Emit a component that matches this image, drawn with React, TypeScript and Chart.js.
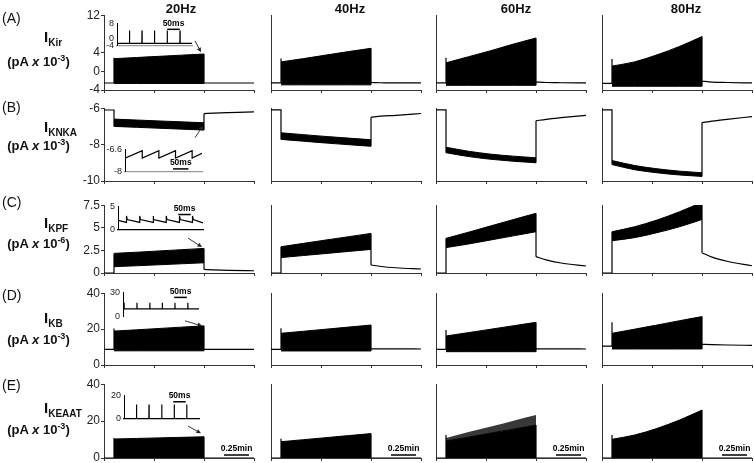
import React, { useEffect, useRef } from 'react';
import { Chart, registerables } from 'chart.js';

Chart.register(...registerables);

const FONT = '"Liberation Sans", Arial, Helvetica, sans-serif';
const AXIS = '#333';

// ---------------- text ----------------
const COLUMN_TITLES = ['20Hz', '40Hz', '60Hz', '80Hz'];
const ROW_LETTERS = ['(A)', '(B)', '(C)', '(D)', '(E)'];
const CURRENT_NAMES = ['Kir', 'KNKA', 'KPF', 'KB', 'KEAAT'];
const UNIT_EXPONENTS = ['-3', '-3', '-6', '-3', '-3'];
const SCALE_BAR_LABEL = '0.25min';
const INSET_BAR_LABEL = '50ms';

// ---------------- time axes (min) ----------------
const X_TICKS = [0, 0.5, 1, 1.5];
const STIM_TIMES = [0.1, 0.325, 0.55, 0.775, 1.0];
const POST_TIMES = [1.0, 1.1, 1.25, 1.5];
const SCALE_BAR_START = 1.2;
const SCALE_BAR_MIN = 0.25;

// ---------------- Row A: I_Kir (pA x 10^-3) ----------------
const KIR_Y_TICKS = [-4, 0, 4, 12];
const kirPre = [-2.5, -2.5, -2.5, -2.6];
const kirSpike = [2.9, 2.7, 2.9, 2.6];
const kirUpper = [
  [2.7, 2.95, 3.2, 3.45, 3.7],
  [2.0, 2.7, 3.45, 4.2, 4.9],
  [1.8, 3.1, 4.4, 5.8, 7.1],
  [1.1, 2.0, 3.5, 5.3, 7.4],
];
const kirLower = [
  [-2.6, -2.6, -2.6, -2.6, -2.6],
  [-2.9, -2.9, -2.9, -2.9, -2.9],
  [-3.0, -3.0, -3.0, -3.0, -3.0],
  [-3.2, -3.2, -3.2, -3.2, -3.2],
];
const kirPost = [
  [-2.5, -2.5, -2.5, -2.5],
  [-2.4, -2.45, -2.5, -2.5],
  [-2.3, -2.4, -2.45, -2.5],
  [-2.1, -2.3, -2.4, -2.5],
];

// ---------------- Row B: I_KNKA (pA x 10^-3) ----------------
const KNKA_Y_TICKS = [-10, -8, -6];
const knkaPre = [-6.1, -6.1, -6.1, -6.1];
const knkaSpike = [-7.0, -7.72, -8.45, -9.1];
const knkaUpper = [
  [-6.6, -6.65, -6.7, -6.75, -6.8],
  [-7.36, -7.46, -7.56, -7.65, -7.74],
  [-8.15, -8.37, -8.53, -8.64, -8.73],
  [-8.88, -9.15, -9.33, -9.46, -9.55],
];
const knkaLower = [
  [-7.0, -7.05, -7.1, -7.15, -7.2],
  [-7.72, -7.82, -7.92, -8.01, -8.1],
  [-8.45, -8.66, -8.81, -8.92, -9.0],
  [-9.1, -9.38, -9.55, -9.67, -9.75],
];
const knkaPost = [
  [-6.3, -6.27, -6.24, -6.2],
  [-6.5, -6.45, -6.4, -6.3],
  [-6.7, -6.62, -6.53, -6.4],
  [-6.8, -6.72, -6.62, -6.47],
];

// ---------------- Row C: I_KPF (pA x 10^-6) ----------------
const KPF_Y_TICKS = [0, 2.5, 5, 7.5];
const kpfPre = [0, 0, 0, 0];
const kpfSpike = [2.17, 2.9, 3.82, 4.55];
const kpfUpper = [
  [2.17, 2.3, 2.44, 2.58, 2.72],
  [2.9, 3.27, 3.64, 4.0, 4.37],
  [3.82, 4.5, 5.2, 5.9, 6.58],
  [4.55, 5.1, 5.84, 6.76, 7.8],
];
const kpfLower = [
  [0.7, 0.8, 0.91, 1.02, 1.13],
  [1.7, 1.93, 2.15, 2.38, 2.6],
  [2.8, 3.2, 3.65, 4.1, 4.55],
  [3.56, 3.9, 4.45, 5.1, 5.9],
];
const kpfPost = [
  [0.4, 0.35, 0.3, 0.25],
  [0.88, 0.72, 0.58, 0.44],
  [1.8, 1.45, 1.1, 0.77],
  [2.24, 1.75, 1.3, 0.8],
];

// ---------------- Row D: I_KB (pA x 10^-3) ----------------
const KB_Y_TICKS = [0, 20, 40];
const kbPre = [8.7, 8.7, 8.7, 10.5];
const kbSpike = [20.4, 20.4, 19.4, 23.7];
const kbUpper = [
  [18.9, 19.6, 20.35, 21.1, 21.8],
  [17.6, 18.75, 19.9, 21.05, 22.2],
  [16.1, 18.0, 19.9, 21.8, 23.7],
  [17.6, 19.9, 22.2, 24.6, 26.9],
];
const kbLower = [
  [7.9, 7.9, 7.9, 7.9, 7.9],
  [7.8, 7.8, 7.8, 7.8, 7.8],
  [7.4, 7.4, 7.4, 7.4, 7.4],
  [8.9, 8.9, 8.9, 8.9, 8.9],
];
const kbPost = [
  [8.7, 8.7, 8.7, 8.7],
  [9.0, 9.0, 8.95, 8.9],
  [9.0, 9.0, 8.95, 8.9],
  [11.5, 11.3, 11.1, 10.9],
];

// ---------------- Row E: I_KEAAT (pA x 10^-3) ----------------
const EAAT_Y_TICKS = [0, 20, 40];
const eaatPre = [0, 0, 0, 0];
const eaatSpike = [10.8, 10.4, 12.4, 12.4];
const eaatUpper = [
  [10.3, 10.6, 10.9, 11.2, 11.5],
  [8.8, 9.9, 11.0, 12.1, 13.2],
  [9.2, 11.3, 13.5, 15.6, 17.8],
  [10.1, 12.4, 16.0, 20.5, 25.9],
];
const eaatLower = [
  [0, 0, 0, 0, 0],
  [0, 0, 0, 0, 0],
  [0, 0, 0, 0, 0],
  [0, 0, 0, 0, 0],
];
const eaatPeaks = [null, null, [10.8, 14.0, 17.0, 20.1, 23.2], null];
const eaatPost = [
  [0, 0, 0, 0],
  [0, 0, 0, 0],
  [0, 0, 0, 0],
  [0, 0, 0, 0],
];

// arrows (data coords of the 20Hz panels): [x1, y1, x2, y2]
const kirArrow = [0.91, 6.5, 0.97, 4.1];
const knkaArrow = [0.91, -7.62, 0.99, -6.96];
const kpfArrow = [0.84, 3.86, 0.98, 2.87];
const kbArrow = [0.81, 24.6, 0.98, 21.8];
const eaatArrow = [0.84, 17.3, 0.97, 13.35];

type RowData = {
  yMin: number; yMax: number; yTicks: number[];
  pre: number[]; spike: number[]; upper: number[][]; lower: number[][]; post: number[][];
  peaks?: (number[] | null)[]; arrow: number[];
};

const ROW_DATA: RowData[] = [
  { yMin: -4, yMax: 12, yTicks: KIR_Y_TICKS, pre: kirPre, spike: kirSpike, upper: kirUpper, lower: kirLower, post: kirPost, arrow: kirArrow },
  { yMin: -10, yMax: -6, yTicks: KNKA_Y_TICKS, pre: knkaPre, spike: knkaSpike, upper: knkaUpper, lower: knkaLower, post: knkaPost, arrow: knkaArrow },
  { yMin: 0, yMax: 7.5, yTicks: KPF_Y_TICKS, pre: kpfPre, spike: kpfSpike, upper: kpfUpper, lower: kpfLower, post: kpfPost, arrow: kpfArrow },
  { yMin: 0, yMax: 40, yTicks: KB_Y_TICKS, pre: kbPre, spike: kbSpike, upper: kbUpper, lower: kbLower, post: kbPost, arrow: kbArrow },
  { yMin: 0, yMax: 40, yTicks: EAAT_Y_TICKS, pre: eaatPre, spike: eaatSpike, upper: eaatUpper, lower: eaatLower, post: eaatPost, peaks: eaatPeaks, arrow: eaatArrow },
];

// ---------------- insets (20Hz, time in ms) ----------------
const kirInsetSpikes = [1, 50, 100, 150, 201, 252];
const kirInsetBase = -2.75;
const kirInsetPeak = 4.2;

const knkaInsetDrops = [56, 110, 164, 218];
const knkaInsetLow = -7.15;
const knkaInsetHigh = -6.68;
const knkaInsetEnd = -6.85;

const kpfInsetSpikes = [34, 87, 140, 193, 246, 298];
const kpfInsetStart = 2.0;
const kpfInsetTop = 2.95;
const kpfInsetAfter = 2.15;
const kpfInsetBefore = 1.55;
const kpfInsetEnd = 1.45;

const kbInsetSpikes = [4, 55, 106, 155, 205, 256];
const kbInsetBase = 9.5;
const kbInsetPeak = 17.3;

const eaatInsetSpikes = [1, 50, 100, 151, 201, 251];
const eaatInsetBase = 0;
const eaatInsetPeak = 12.1;

type Pt = { x: number; y: number };

function spikeTrain(times: number[], base: number, peak: number, xMax: number): Pt[] {
  const out: Pt[] = [{ x: 0, y: base }];
  times.forEach((t) => {
    out.push({ x: Math.max(0, t - 0.6), y: base }, { x: t, y: peak }, { x: t + 0.6, y: base });
  });
  out.push({ x: xMax, y: base });
  return out;
}
function sawtooth(drops: number[], low: number, high: number, end: number, xMax: number): Pt[] {
  const out: Pt[] = [{ x: 0, y: low }];
  drops.forEach((d) => out.push({ x: d, y: high }, { x: d, y: low }));
  out.push({ x: xMax, y: end });
  return out;
}
function decayTrain(times: number[], start: number, top: number, after: number, before: number, end: number, xMax: number): Pt[] {
  const out: Pt[] = [{ x: 0, y: start }];
  times.forEach((t) => out.push({ x: t, y: before }, { x: t, y: top }, { x: t + 3, y: after }));
  out.push({ x: xMax, y: end });
  return out;
}

type InsetData = { yMin: number; yMax: number; yTicks: number[]; xMax: number; points: Pt[]; xBorder: string | null; barStart: number; barY: number };

const INSET_DATA: InsetData[] = [
  { yMin: -4, yMax: 8, yTicks: [-4, 0, 8], xMax: 300, points: spikeTrain(kirInsetSpikes, kirInsetBase, kirInsetPeak, 300), xBorder: '#9a9a9a', barStart: 201, barY: 4.8 },
  { yMin: -8, yMax: -6.6, yTicks: [-8, -6.6], xMax: 250, points: sawtooth(knkaInsetDrops, knkaInsetLow, knkaInsetHigh, knkaInsetEnd, 250), xBorder: '#9a9a9a', barStart: 156, barY: -7.83 },
  { yMin: 0, yMax: 5, yTicks: [0, 5], xMax: 340, points: decayTrain(kpfInsetSpikes, kpfInsetStart, kpfInsetTop, kpfInsetAfter, kpfInsetBefore, kpfInsetEnd, 340), xBorder: '#000', barStart: 241, barY: 3.25 },
  { yMin: 0, yMax: 30, yTicks: [0, 30], xMax: 300, points: spikeTrain(kbInsetSpikes, kbInsetBase, kbInsetPeak, 300), xBorder: null, barStart: 202, barY: 23.8 },
  { yMin: 0, yMax: 20, yTicks: [0, 20], xMax: 300, points: spikeTrain(eaatInsetSpikes, eaatInsetBase, eaatInsetPeak, 300), xBorder: '#000', barStart: 197, barY: 14.5 },
];

// ---------------- layout ----------------
const COL_AXIS_X = [104, 271, 436, 602];
const PLOT_W = 150;
const ROW_TOP = [15, 108, 205, 293, 384];
const ROW_BOTTOM = [90, 181, 273, 365, 458];
const TITLE_X = [181, 350, 516, 686];
const LETTER_Y = [18, 107, 202, 295, 385];
const NAME_Y = [36, 126, 222, 317, 407];
const UNIT_Y = [61, 145, 243, 339, 429];
const INSET_LAYOUT = [
  { axisX: 117, right: 192, top: 21, bottom: 48 },
  { axisX: 125, right: 202, top: 147, bottom: 174 },
  { axisX: 118, right: 203, top: 204, bottom: 232 },
  { axisX: 123, right: 199, top: 290, bottom: 319 },
  { axisX: 124, right: 199, top: 393, bottom: 421 },
];

const pts = (xs: number[], ys: number[]): Pt[] => xs.map((x, i) => ({ x, y: ys[i] }));

function lineDs(data: Pt[], extra: any = {}) {
  return {
    data, borderColor: '#000', backgroundColor: '#000', borderWidth: 1.2,
    pointRadius: 0, fill: false, tension: 0, ...extra,
  };
}

function mainConfig(r: number, c: number): any {
  const d = ROW_DATA[r];
  const up = d.upper[c];
  const lo = d.lower[c];
  const post = d.post[c];
  const peaks = d.peaks ? d.peaks[c] : null;
  const sStart = STIM_TIMES[0];
  const sEnd = STIM_TIMES[STIM_TIMES.length - 1];
  const datasets: any[] = [];
  if (peaks) {
    datasets.push(lineDs(pts(STIM_TIMES, peaks), { borderColor: 'rgba(0,0,0,0)', backgroundColor: 'rgba(0,0,0,0.78)', borderWidth: 0.5, fill: '+1', cubicInterpolationMode: 'monotone' }));
  }
  datasets.push(lineDs(pts(STIM_TIMES, up), { borderWidth: 1, fill: '+1', cubicInterpolationMode: 'monotone' }));
  datasets.push(lineDs(pts(STIM_TIMES, lo), { borderWidth: 1, cubicInterpolationMode: 'monotone' }));
  datasets.push(lineDs([{ x: 0, y: d.pre[c] }, { x: sStart, y: d.pre[c] }, { x: sStart, y: d.spike[c] }]));
  datasets.push(lineDs([{ x: sEnd, y: lo[lo.length - 1] }, { x: sEnd, y: up[up.length - 1] }, { x: sEnd, y: post[0] }]));
  datasets.push(lineDs(pts(POST_TIMES, post), { cubicInterpolationMode: 'monotone' }));

  const plugins: any[] = [];
  if (c === 0) {
    const a = d.arrow;
    plugins.push({
      id: 'arrow',
      afterDatasetsDraw(chart: any) {
        const { ctx, scales } = chart;
        const x1 = scales.x.getPixelForValue(a[0]);
        const y1 = scales.y.getPixelForValue(a[1]);
        const x2 = scales.x.getPixelForValue(a[2]);
        const y2 = scales.y.getPixelForValue(a[3]);
        const ang = Math.atan2(y2 - y1, x2 - x1);
        const L = 4.5, W = 2.2;
        const bx = x2 - L * Math.cos(ang), by = y2 - L * Math.sin(ang);
        ctx.save();
        ctx.strokeStyle = '#222';
        ctx.fillStyle = '#222';
        ctx.lineWidth = 0.9;
        ctx.beginPath();
        ctx.moveTo(x1, y1);
        ctx.lineTo(bx, by);
        ctx.stroke();
        ctx.beginPath();
        ctx.moveTo(x2, y2);
        ctx.lineTo(bx - W * Math.sin(ang), by + W * Math.cos(ang));
        ctx.lineTo(bx + W * Math.sin(ang), by - W * Math.cos(ang));
        ctx.closePath();
        ctx.fill();
        ctx.restore();
      },
    });
  }
  if (r === ROW_DATA.length - 1) {
    plugins.push({
      id: 'scaleBar',
      afterDatasetsDraw(chart: any) {
        const { ctx, scales, chartArea } = chart;
        const x1 = scales.x.getPixelForValue(SCALE_BAR_START);
        const x2 = scales.x.getPixelForValue(SCALE_BAR_START + SCALE_BAR_MIN);
        const yy = chartArea.bottom - 3;
        ctx.save();
        ctx.strokeStyle = '#000';
        ctx.lineWidth = 1.5;
        ctx.beginPath();
        ctx.moveTo(x1, yy);
        ctx.lineTo(x2, yy);
        ctx.stroke();
        ctx.fillStyle = '#000';
        ctx.font = `bold 8.5px ${FONT}`;
        ctx.textAlign = 'center';
        ctx.textBaseline = 'bottom';
        ctx.fillText(SCALE_BAR_LABEL, (x1 + x2) / 2, yy - 2);
        ctx.restore();
      },
    });
  }

  return {
    type: 'line',
    data: { datasets },
    options: {
      responsive: false,
      maintainAspectRatio: false,
      animation: false,
      devicePixelRatio: 1,
      events: [],
      layout: { padding: { top: 8, bottom: 6, left: 0, right: 4 } },
      plugins: { legend: { display: false }, tooltip: { enabled: false } },
      scales: {
        x: {
          type: 'linear', min: 0, max: 1.5,
          afterBuildTicks: (s: any) => { s.ticks = X_TICKS.map((value) => ({ value })); },
          ticks: { display: false, autoSkip: false },
          grid: { drawOnChartArea: false, drawTicks: true, tickLength: 3, color: AXIS, lineWidth: 1 },
          border: { display: true, color: AXIS, width: 1 },
          afterFit: (s: any) => { s.height = 3; },
        },
        y: {
          type: 'linear', min: d.yMin, max: d.yMax,
          afterBuildTicks: (s: any) => { s.ticks = d.yTicks.map((value) => ({ value })); },
          ticks: { display: c === 0, autoSkip: false, font: { family: FONT, size: 12 }, color: '#222', padding: 1, callback: (v: any) => String(v) },
          grid: { drawOnChartArea: false, drawTicks: c === 0, tickLength: 3, color: AXIS, lineWidth: 1 },
          border: { display: true, color: AXIS, width: 1 },
          afterFit: (s: any) => { s.width = 30; },
        },
      },
    },
    plugins,
  };
}

function insetConfig(i: number): any {
  const d = INSET_DATA[i];
  return {
    type: 'line',
    data: { datasets: [lineDs(d.points, { borderWidth: 1.2 })] },
    options: {
      responsive: false,
      maintainAspectRatio: false,
      animation: false,
      devicePixelRatio: 1,
      events: [],
      layout: { padding: { top: 6, bottom: 6, left: 0, right: 2 } },
      plugins: { legend: { display: false }, tooltip: { enabled: false } },
      scales: {
        x: {
          type: 'linear', min: 0, max: d.xMax,
          ticks: { display: false },
          grid: { display: false, drawTicks: false },
          border: { display: !!d.xBorder, color: d.xBorder || AXIS, width: 1.2 },
          afterFit: (s: any) => { s.height = 0; },
        },
        y: {
          type: 'linear', min: d.yMin, max: d.yMax,
          afterBuildTicks: (s: any) => { s.ticks = d.yTicks.map((value) => ({ value })); },
          ticks: { autoSkip: false, font: { family: FONT, size: 9 }, color: '#222', padding: 3, callback: (v: any) => String(v) },
          grid: { display: false, drawTicks: false },
          border: { display: true, color: '#000', width: 1 },
          afterFit: (s: any) => { s.width = 22; },
        },
      },
    },
    plugins: [
      {
        id: 'insetBar',
        afterDatasetsDraw(chart: any) {
          const { ctx, scales } = chart;
          const x1 = scales.x.getPixelForValue(d.barStart);
          const x2 = scales.x.getPixelForValue(d.barStart + 50);
          const yy = scales.y.getPixelForValue(d.barY);
          ctx.save();
          ctx.strokeStyle = '#000';
          ctx.lineWidth = 1.5;
          ctx.beginPath();
          ctx.moveTo(x1, yy);
          ctx.lineTo(x2, yy);
          ctx.stroke();
          ctx.fillStyle = '#000';
          ctx.font = `bold 8.5px ${FONT}`;
          ctx.textAlign = 'center';
          ctx.textBaseline = 'bottom';
          ctx.fillText(INSET_BAR_LABEL, (x1 + x2) / 2, yy - 1.5);
          ctx.restore();
        },
      },
    ],
  };
}

function ChartBox({ left, top, width, height, make }: { left: number; top: number; width: number; height: number; make: () => any }) {
  const ref = useRef<HTMLCanvasElement>(null);
  useEffect(() => {
    const chart = new Chart(ref.current as HTMLCanvasElement, make());
    return () => chart.destroy();
  }, []);
  return (
    <canvas
      ref={ref}
      width={width}
      height={height}
      style={{ position: 'absolute', left, top, width, height, display: 'block' }}
    />
  );
}

export default function App() {
  return (
    <div
      style={{
        position: 'fixed', left: 0, top: 0, width: 754, height: 463, overflow: 'hidden',
        background: '#fff', fontFamily: FONT, color: '#111',
      }}
    >
      {ROW_DATA.map((_, r) =>
        COL_AXIS_X.map((ax, c) => (
          <ChartBox
            key={`m${r}-${c}`}
            left={ax - 30}
            top={ROW_TOP[r] - 8}
            width={30 + PLOT_W + 4}
            height={8 + ROW_BOTTOM[r] - ROW_TOP[r] + 9}
            make={() => mainConfig(r, c)}
          />
        ))
      )}
      {INSET_LAYOUT.map((L, i) => (
        <ChartBox
          key={`in${i}`}
          left={L.axisX - 22}
          top={L.top - 6}
          width={22 + (L.right - L.axisX) + 2}
          height={6 + (L.bottom - L.top) + 6}
          make={() => insetConfig(i)}
        />
      ))}
      {COLUMN_TITLES.map((t, i) => (
        <div
          key={t}
          style={{
            position: 'absolute', left: TITLE_X[i], top: 7.5, transform: 'translate(-50%, -50%)',
            fontSize: 13, fontWeight: 'bold', whiteSpace: 'nowrap', lineHeight: 1,
          }}
        >
          {t}
        </div>
      ))}
      {ROW_LETTERS.map((t, r) => (
        <div
          key={t}
          style={{
            position: 'absolute', left: 2, top: LETTER_Y[r], transform: 'translateY(-50%)',
            fontSize: 14, whiteSpace: 'nowrap', lineHeight: 1,
          }}
        >
          {t}
        </div>
      ))}
      {CURRENT_NAMES.map((n, r) => (
        <div
          key={n}
          style={{
            position: 'absolute', left: 44, top: NAME_Y[r], transform: 'translateY(-50%)',
            fontSize: 15, fontWeight: 'bold', whiteSpace: 'nowrap', lineHeight: 1,
          }}
        >
          I
          <span style={{ fontSize: 10, position: 'relative', top: 4 }}>{n}</span>
        </div>
      ))}
      {UNIT_EXPONENTS.map((e, r) => (
        <div
          key={`u${r}`}
          style={{
            position: 'absolute', left: 38.5, top: UNIT_Y[r], transform: 'translate(-50%, -50%)',
            fontSize: 13, fontWeight: 'bold', whiteSpace: 'nowrap', lineHeight: 1,
          }}
        >
          (pA <i>x</i> 10
          <span style={{ fontSize: 9, position: 'relative', top: -5 }}>{e}</span>)
        </div>
      ))}
    </div>
  );
}
